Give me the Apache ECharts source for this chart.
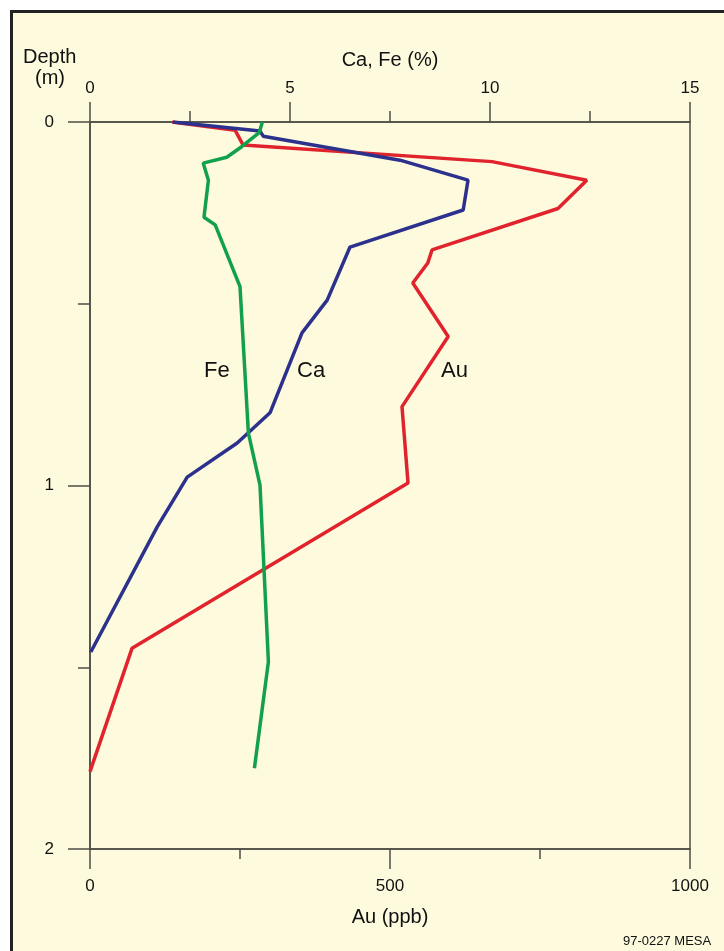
<!DOCTYPE html>
<html>
<head>
<meta charset="utf-8">
<script src="https://cdn.jsdelivr.net/npm/echarts@6/dist/echarts.min.js"></script>
<style>
html, body { margin: 0; padding: 0; background: #fff; }
#frame { position: absolute; left: 10px; top: 10px; width: 800px; height: 1000px;
  border: 3px solid #222; background: #fdfadd; }
#chart { position: absolute; left: 0; top: 0; width: 724px; height: 951px; }
</style>
</head>
<body>
<div id="frame"></div>
<div id="chart"></div>
<script>
// depth (m) and values
var caDepth = [0, 0.025, 0.039, 0.105, 0.16, 0.242, 0.344, 0.49, 0.58, 0.80, 0.883, 0.977, 1.114, 1.458];
var caPct   = [2.07, 4.25, 4.33, 7.75, 9.45, 9.33, 6.5, 5.93, 5.3, 4.5, 3.68, 2.43, 1.68, 0.02];

var feDepth = [0, 0.029, 0.068, 0.097, 0.113, 0.16, 0.262, 0.283, 0.453, 0.856, 0.999, 1.485, 1.778];
var fePct   = [4.31, 4.23, 3.79, 3.42, 2.83, 2.96, 2.85, 3.13, 3.75, 3.96, 4.25, 4.46, 4.11];

var auDepth = [0, 0.023, 0.063, 0.109, 0.16, 0.238, 0.352, 0.388, 0.443, 0.59, 0.783, 0.993, 1.448, 1.787];
var auPpb   = [137, 242, 255, 670, 828, 780, 570, 563, 538, 597, 520, 530, 70, 0];

var depthTicks = [0, 1, 2];

function pairs(xs, ys) {
    var out = [];
    for (var i = 0; i < xs.length; i++) out.push([xs[i], ys[i]]);
    return out;
}

var chart = echarts.init(document.getElementById('chart'));
var axisCol = '#4d4d45';
var font = 'Liberation Sans, Arial, sans-serif';
var plain = function (v) { return String(v); };

option = {
    animation: false,
    backgroundColor: 'transparent',
    textStyle: { fontFamily: font },
    grid: {
        left: 90, right: 34, top: 122, bottom: 102,
        show: true, borderColor: axisCol, borderWidth: 1.5
    },
    xAxis: [
        {
            type: 'value', position: 'top',
            min: 0, max: 15, interval: 5,
            name: 'Ca, Fe (%)', nameLocation: 'middle', nameGap: 52,
            nameTextStyle: { color: '#111', fontSize: 20, fontFamily: font },
            axisLine: { lineStyle: { color: axisCol, width: 1.5 } },
            axisTick: { length: 20, lineStyle: { color: axisCol, width: 1.5 } },
            minorTick: { show: true, splitNumber: 2, length: 11, lineStyle: { color: axisCol, width: 1.5 } },
            axisLabel: { margin: 25, color: '#111', fontSize: 17, fontFamily: font, formatter: plain },
            splitLine: { show: false }
        },
        {
            type: 'value', position: 'bottom',
            min: 0, max: 1000, interval: 500,
            name: 'Au (ppb)', nameLocation: 'middle', nameGap: 58,
            nameTextStyle: { color: '#111', fontSize: 20, fontFamily: font },
            axisLine: { lineStyle: { color: axisCol, width: 1.5 } },
            axisTick: { length: 20, lineStyle: { color: axisCol, width: 1.5 } },
            minorTick: { show: true, splitNumber: 2, length: 10, lineStyle: { color: axisCol, width: 1.5 } },
            axisLabel: { margin: 29, color: '#111', fontSize: 17, fontFamily: font, formatter: plain },
            splitLine: { show: false }
        }
    ],
    yAxis: {
        type: 'value', inverse: true,
        min: depthTicks[0], max: depthTicks[depthTicks.length - 1], interval: 1,
        axisLine: { lineStyle: { color: axisCol, width: 1.5 } },
        axisTick: { length: 22, lineStyle: { color: axisCol, width: 1.5 } },
        minorTick: { show: true, splitNumber: 2, length: 12, lineStyle: { color: axisCol, width: 1.5 } },
        axisLabel: { margin: 36, color: '#111', fontSize: 17, fontFamily: font, formatter: plain },
        splitLine: { show: false }
    },
    graphic: [
        { type: 'text', left: 23, top: 47, style: { text: 'Depth', fontSize: 20, fontFamily: font, fill: '#111' } },
        { type: 'text', left: 35, top: 68, style: { text: '(m)', fontSize: 20, fontFamily: font, fill: '#111' } },
        { type: 'text', left: 204, top: 360, style: { text: 'Fe', fontSize: 22, fontFamily: font, fill: '#111' } },
        { type: 'text', left: 297, top: 360, style: { text: 'Ca', fontSize: 22, fontFamily: font, fill: '#111' } },
        { type: 'text', left: 441, top: 360, style: { text: 'Au', fontSize: 22, fontFamily: font, fill: '#111' } },
        { type: 'text', left: 623, top: 935, style: { text: '97-0227 MESA', fontSize: 13, fontFamily: font, fill: '#111' } }
    ],
    series: [
        {
            name: 'Au', type: 'line', xAxisIndex: 1, symbol: 'none',
            lineStyle: { color: '#e0232d', width: 3.5 },
            data: pairs(auPpb, auDepth)
        },
        {
            name: 'Ca', type: 'line', xAxisIndex: 0, symbol: 'none',
            lineStyle: { color: '#2b318c', width: 3.5 },
            data: pairs(caPct, caDepth)
        },
        {
            name: 'Fe', type: 'line', xAxisIndex: 0, symbol: 'none',
            lineStyle: { color: '#13a04c', width: 3.5 },
            data: pairs(fePct, feDepth)
        }
    ]
};

chart.setOption(option);
</script>
</body>
</html>
